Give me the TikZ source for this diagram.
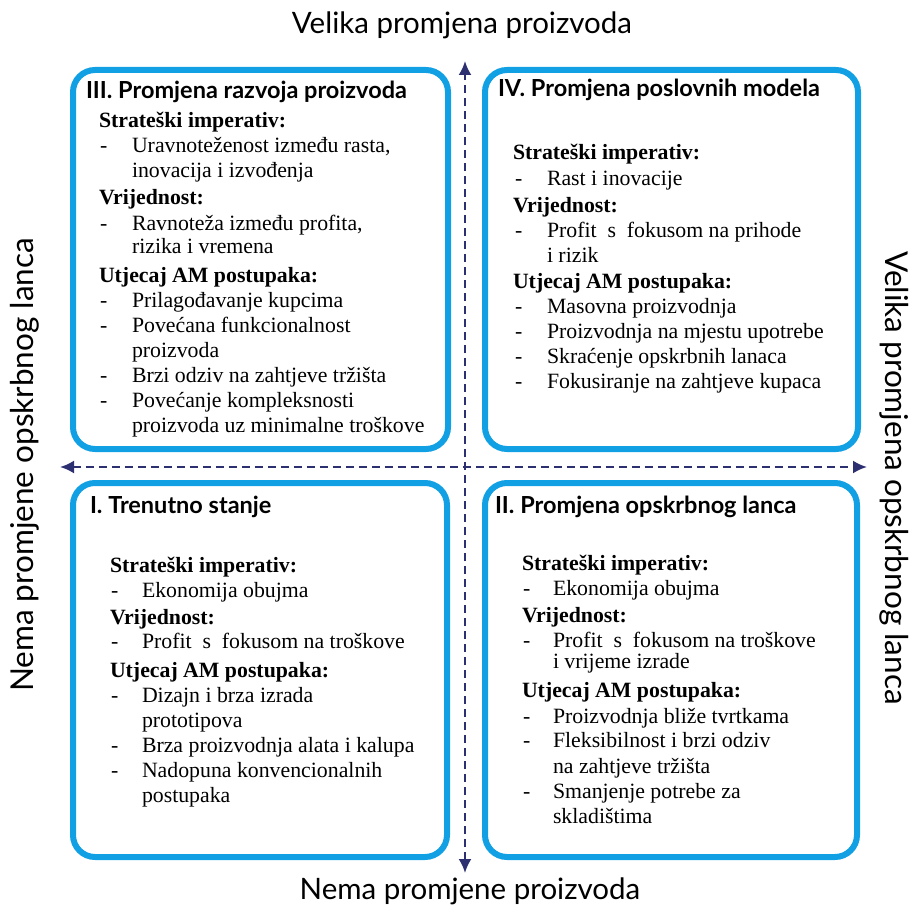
\documentclass[tikz,border=0pt]{standalone}
\usepackage{fontspec}
\setmainfont{Liberation Serif}
\newfontfamily\labelfont{Lato}
\usetikzlibrary{arrows.meta}
\definecolor{boxblue}{RGB}{18,160,228}
\definecolor{axisnavy}{RGB}{44,48,112}
\newcommand\qline[4]{\node[body] (#1) at (#2,#3) {#4};}
\newcommand\qhead[4]{\node[hd] (#1) at (#2,#3) {#4};}
\newcommand\qitem[5]{\node[body] (#1d) at (#2,#4) {-}; \node[body] (#1) at (#3,#4) {#5};}
\begin{document}
\begin{tikzpicture}[x=1pt,y=-1pt,
  quad/.style={draw=boxblue,line width=6pt,rounded corners=22pt,inner sep=0pt,outer sep=0pt,rectangle},
  axisline/.style={draw=axisnavy,line width=2.3pt,dash pattern=on 8pt off 5pt},
  body/.style={inner sep=0pt,outer sep=0pt,anchor=base west,font=\fontsize{21.8}{24}\selectfont},
  hd/.style={body,font=\fontsize{21.8}{24}\selectfont\bfseries},
  qtitle/.style={inner sep=0pt,outer sep=0pt,anchor=base west,font=\labelfont\bfseries\fontsize{23.5}{26}\selectfont},
  axislabel/.style={inner sep=0pt,outer sep=0pt,anchor=base,font=\labelfont\fontsize{29.5}{32}\selectfont},
  sidelabel/.style={axislabel,font=\labelfont\fontsize{31.5}{34}\selectfont}
]
\fill[white] (0,0) rectangle (914,907);
\useasboundingbox (0,0) rectangle (914,907);

% axes
\coordinate (hl) at (60,467);
\coordinate (hr) at (867,467);
\coordinate (vt) at (465,61);
\coordinate (vb) at (465,873);
\draw[axisline,{Latex[length=14pt,width=13pt]}-{Latex[length=14pt,width=13pt]}] (hl) -- (hr);
\draw[axisline,{Latex[length=14pt,width=13pt]}-{Latex[length=14pt,width=13pt]}] (vb) -- (vt);

% quadrant boxes
\node[quad,minimum width=375pt,minimum height=379pt] (boxIII) at (260.5,259.5) {};
\node[quad,minimum width=373pt,minimum height=379pt] (boxIV) at (671.5,259.5) {};
\node[quad,minimum width=374pt,minimum height=374pt] (boxI) at (260,670) {};
\node[quad,minimum width=372pt,minimum height=374pt] (boxII) at (671,670) {};

% axis labels
\node[axislabel] (lblTop) at (462,34) {Velika promjena proizvoda};
\node[axislabel] (lblBottom) at (470,899) {Nema promjene proizvoda};
\node[sidelabel,rotate=90] (lblLeft) at (34,465) {Nema promjene opskrbnog lanca};
\node[sidelabel,rotate=-90] (lblRight) at (885,478) {Velika promjena opskrbnog lanca};

% Box III
\node[qtitle] (t3) at (86,99) {III. Promjena razvoja proizvoda};
\qhead{a1}{99}{128}{Strateški imperativ:}
\qitem{a2}{100}{132}{153}{Uravnoteženost između rasta,}
\qline{a3}{132}{177}{inovacija i izvođenja}
\qhead{a4}{99}{204}{Vrijednost:}
\qitem{a5}{100}{132}{230}{Ravnoteža između profita,}
\qline{a6}{132}{253}{rizika i vremena}
\qhead{a7}{99}{282}{Utjecaj AM postupaka:}
\qitem{a8}{100}{132}{307}{Prilagođavanje kupcima}
\qitem{a9}{100}{132}{332}{Povećana funkcionalnost}
\qline{a10}{132}{357}{proizvoda}
\qitem{a11}{100}{132}{382}{Brzi odziv na zahtjeve tržišta}
\qitem{a12}{100}{132}{407}{Povećanje kompleksnosti}
\qline{a13}{132}{432}{proizvoda uz minimalne troškove}

% Box IV
\node[qtitle] (t4) at (498,96) {IV. Promjena poslovnih modela};
\qhead{b1}{513}{160}{Strateški imperativ:}
\qitem{b2}{515}{547}{185}{Rast i inovacije}
\qhead{b3}{513}{212}{Vrijednost:}
\qitem{b4}{515}{547}{237}{Profit\ \ s\ \ fokusom na prihode}
\qline{b5}{547}{262}{i rizik}
\qhead{b6}{513}{288}{Utjecaj AM postupaka:}
\qitem{b7}{515}{547}{313}{Masovna proizvodnja}
\qitem{b8}{515}{547}{338}{Proizvodnja na mjestu upotrebe}
\qitem{b9}{515}{547}{363}{Skraćenje opskrbnih lanaca}
\qitem{b10}{515}{547}{388}{Fokusiranje na zahtjeve kupaca}

% Box I
\node[qtitle] (t1) at (90,513) {I. Trenutno stanje};
\qhead{c1}{110}{572}{Strateški imperativ:}
\qitem{c2}{111}{142}{597}{Ekonomija obujma}
\qhead{c3}{110}{624}{Vrijednost:}
\qitem{c4}{111}{142}{648}{Profit\ \ s\ \ fokusom na troškove}
\qhead{c5}{110}{677}{Utjecaj AM postupaka:}
\qitem{c6}{111}{142}{702}{Dizajn i brza izrada}
\qline{c7}{142}{727}{prototipova}
\qitem{c8}{111}{142}{752}{Brza proizvodnja alata i kalupa}
\qitem{c9}{111}{142}{777}{Nadopuna konvencionalnih}
\qline{c10}{142}{802}{postupaka}

% Box II
\node[qtitle] (t2) at (495,513) {II. Promjena opskrbnog lanca};
\qhead{d1}{522}{570}{Strateški imperativ:}
\qitem{d2}{523}{553}{595}{Ekonomija obujma}
\qhead{d3}{522}{622}{Vrijednost:}
\qitem{d4}{523}{553}{647}{Profit\ \ s\ \ fokusom na troškove}
\qline{d5}{553}{668}{i vrijeme izrade}
\qhead{d6}{522}{697}{Utjecaj AM postupaka:}
\qitem{d7}{523}{553}{723}{Proizvodnja bliže tvrtkama}
\qitem{d8}{523}{553}{747}{Fleksibilnost i brzi odziv}
\qline{d9}{553}{773}{na zahtjeve tržišta}
\qitem{d10}{523}{553}{798}{Smanjenje potrebe za}
\qline{d11}{553}{823}{skladištima}
\end{tikzpicture}
\end{document}
